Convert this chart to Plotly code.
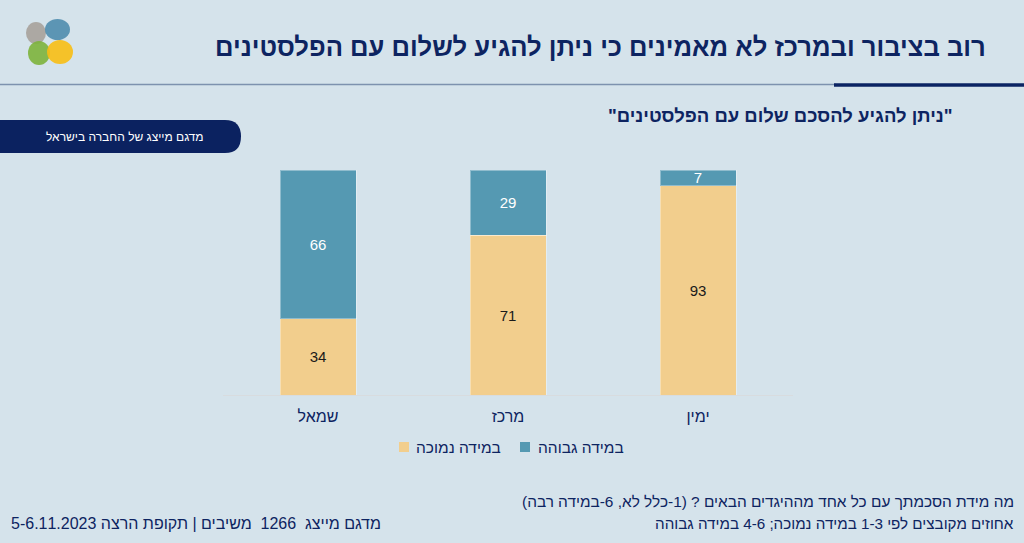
import plotly.graph_objects as go

categories = ["שמאל", "מרכז", "ימין"]
low_values = [34, 71, 93]
high_values = [66, 29, 7]
low_name = "במידה נמוכה"
high_name = "במידה גבוהה"

BG = "#d5e3eb"
NAVY = "#0d2461"
BLUE = "#5599b2"
YELLOW = "#f2ce8d"
FONT = "Liberation Sans, Arial, sans-serif"
NARROW = "Liberation Sans Narrow, Liberation Sans, Arial, sans-serif"

fig = go.Figure()
fig.add_trace(go.Bar(
    x=categories, y=low_values, name=low_name, marker_color=YELLOW,
    marker_line=dict(color="rgba(255,255,255,0.35)", width=1),
    text=[str(v) for v in low_values], textposition="inside", insidetextanchor="middle",
    textangle=0, constraintext="none",
    textfont=dict(color="#1a1a1a", size=15, family=FONT), width=0.4))
fig.add_trace(go.Bar(
    x=categories, y=high_values, name=high_name, marker_color=BLUE,
    marker_line=dict(color="rgba(255,255,255,0.35)", width=1),
    text=[str(v) for v in high_values], textposition="inside", insidetextanchor="middle",
    textangle=0, constraintext="none",
    textfont=dict(color="white", size=15, family=FONT), width=0.4))

W, H = 1024, 543
L, R, T, B = 223, 1024 - 793, 170, 543 - 395


def pfx(x):
    return (x - L) / (W - L - R)


def pfy(y):
    return (H - B - y) / (H - T - B)


shapes = [
    dict(type="line", xref="paper", yref="paper", x0=pfx(0), x1=pfx(836), y0=pfy(84.5), y1=pfy(84.5),
         line=dict(color="#7d92ae", width=1.5), layer="above"),
    dict(type="line", xref="paper", yref="paper", x0=pfx(834), x1=pfx(1024), y0=pfy(85), y1=pfy(85),
         line=dict(color="#0b2463", width=3.5), layer="above"),
    dict(type="path", xref="paper", yref="paper",
         path=(f"M {pfx(0)},{pfy(120)} L {pfx(225)},{pfy(120)} "
               f"Q {pfx(241)},{pfy(120)} {pfx(241)},{pfy(136.5)} "
               f"Q {pfx(241)},{pfy(153)} {pfx(225)},{pfy(153)} "
               f"L {pfx(0)},{pfy(153)} Z"),
         fillcolor="#0b2260", line=dict(width=0), layer="above"),
]

# simple logo
logo = [
    (26, 22, 46, 44, "rgba(165,158,150,0.85)"),
    (45, 19, 70, 40, "rgba(70,135,170,0.85)"),
    (28, 41, 50, 65, "rgba(125,178,60,0.9)"),
    (47, 40, 73, 64, "rgba(248,190,20,0.9)"),
]
for x0, y0, x1, y1, c in logo:
    shapes.append(dict(type="circle", xref="paper", yref="paper", x0=pfx(x0), x1=pfx(x1),
                       y0=pfy(y1), y1=pfy(y0), fillcolor=c, line=dict(width=0), layer="above"))

# legend (manual)
shapes += [
    dict(type="rect", xref="paper", yref="paper", x0=pfx(520), x1=pfx(530), y0=pfy(452), y1=pfy(442),
         fillcolor=BLUE, line=dict(width=0)),
    dict(type="rect", xref="paper", yref="paper", x0=pfx(399), x1=pfx(409), y0=pfy(452), y1=pfy(442),
         fillcolor=YELLOW, line=dict(width=0)),
]
annotations = [
    dict(text=high_name, xref="paper", yref="paper", x=pfx(536), y=pfy(447), xanchor="left", yanchor="middle",
         showarrow=False, font=dict(size=15.5, color=NAVY, family=FONT)),
    dict(text=low_name, xref="paper", yref="paper", x=pfx(414), y=pfy(447), xanchor="left", yanchor="middle",
         showarrow=False, font=dict(size=15.5, color=NAVY, family=FONT)),
]

annotations += [
    dict(text="<b>רוב בציבור ובמרכז לא מאמינים כי ניתן להגיע לשלום עם הפלסטינים</b>",
         xref="paper", yref="paper", x=pfx(988), y=pfy(47), xanchor="right", yanchor="middle",
         showarrow=False, font=dict(size=25.6, color=NAVY, family=FONT)),
    dict(text="מדגם מייצג של החברה בישראל", xref="paper", yref="paper", x=pfx(125), y=pfy(136.5),
         xanchor="center", yanchor="middle", showarrow=False,
         font=dict(size=12, color="white", family=FONT)),
    dict(text='<b>"ניתן להגיע להסכם שלום עם הפלסטינים"</b>', xref="paper", yref="paper",
         x=pfx(955), y=pfy(115), xanchor="right", yanchor="middle", showarrow=False,
         font=dict(size=18.5, color=NAVY, family=FONT)),
    dict(text="מה מידת הסכמתך עם כל אחד מההיגדים הבאים ? (1-כלל לא, 6-במידה רבה)",
         xref="paper", yref="paper", x=pfx(1016), y=pfy(501), xanchor="right", yanchor="middle",
         showarrow=False, font=dict(size=15.4, color=NAVY, family=NARROW)),
    dict(text="אחוזים מקובצים לפי 1-3 במידה נמוכה; 4-6 במידה גבוהה",
         xref="paper", yref="paper", x=pfx(1016), y=pfy(523), xanchor="right", yanchor="middle",
         showarrow=False, font=dict(size=15.2, color=NAVY, family=NARROW)),
    dict(text="מדגם מייצג  1266  משיבים | תקופת הרצה 5-6.11.2023",
         xref="paper", yref="paper", x=pfx(383), y=pfy(523), xanchor="right", yanchor="middle",
         showarrow=False, font=dict(size=16, color=NAVY, family=NARROW)),
]

fig.update_layout(
    width=W, height=H,
    barmode="stack",
    paper_bgcolor=BG, plot_bgcolor=BG,
    margin=dict(l=L, r=R, t=T, b=B),
    showlegend=False,
    shapes=shapes, annotations=annotations,
    font=dict(family=FONT, color=NAVY),
    xaxis=dict(range=[-0.5, 2.5], showgrid=False, showline=True, linecolor="#d8dcdf", linewidth=1,
               ticks="", ticklabelstandoff=7,
               tickfont=dict(size=16, color=NAVY, family=FONT), fixedrange=True),
    yaxis=dict(range=[0, 100], showgrid=False, showticklabels=False, zeroline=False, showline=False,
               fixedrange=True),
)
fig.write_html("out.html", config={"displayModeBar": False},
               post_script="document.body.style.margin='0';document.body.style.overflow='hidden';")
